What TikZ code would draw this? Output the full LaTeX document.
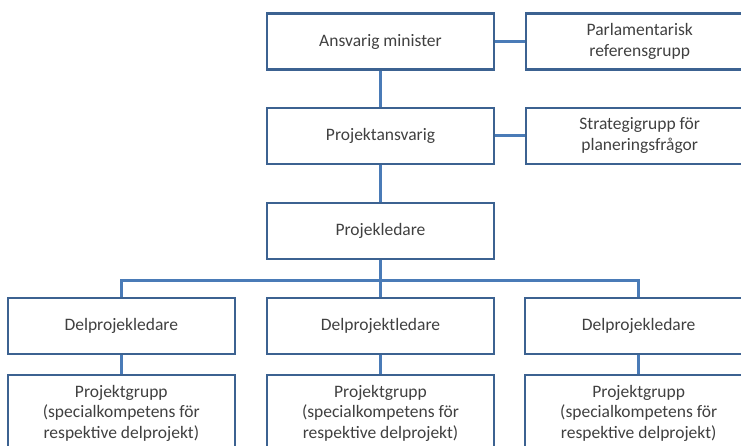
\documentclass[tikz,border=0pt]{standalone}
\usepackage{fontspec}
\setmainfont{Carlito}
\usetikzlibrary{positioning}
\definecolor{boxblue}{RGB}{60,98,145}
\definecolor{lineblue}{RGB}{74,123,183}
\definecolor{textgray}{RGB}{64,64,64}

\begin{document}
\begin{tikzpicture}[
    x=1pt, y=-1pt,
    node distance=36pt and 30pt,
    box/.style={draw=boxblue, line width=2.2pt, rectangle, minimum height=56pt, minimum width=227pt, inner sep=0pt, align=center, text=textgray, font=\fontsize{17.5}{20.5}\selectfont},
    group/.style={box, minimum height=76pt},
    link/.style={lineblue, line width=3pt}
]
    \useasboundingbox (0,0) rectangle (741,445);
    \clip (0,0) rectangle (741,445);

    \node[box] (am) at (380.5,41.5) {Ansvarig minister};
    \node[box, right=of am] (pr) {Parlamentarisk\\referensgrupp};
    \node[box, below=of am] (pa) {Projektansvarig};
    \node[box, right=of pa] (sg) {Strategigrupp för\\planeringsfrågor};
    \node[box, below=37pt of pa] (pl) {Projekledare};

    \node[box, below=37pt of pl] (dl2) {Delprojektledare};
    \node[box, left=of dl2] (dl1) {Delprojekledare};
    \node[box, right=29pt of dl2] (dl3) {Delprojekledare};

    \node[group, below=19pt of dl1] (pg1) {Projektgrupp\\(specialkompetens för\\respektive delprojekt)};
    \node[group, below=19pt of dl2] (pg2) {Projektgrupp\\(specialkompetens för\\respektive delprojekt)};
    \node[group, below=19pt of dl3] (pg3) {Projektgrupp\\(specialkompetens för\\respektive delprojekt)};

    \coordinate[below=20pt of pl.south] (bar);

    \draw[link] (am) -- (pr);
    \draw[link] (am) -- (pa);
    \draw[link] (pa) -- (sg);
    \draw[link] (pa) -- (pl);
    \draw[link] (pl) -- (dl2);
    \draw[link] (dl1) |- (bar) -| (dl3);

    \draw[link] (dl1) -- (pg1);
    \draw[link] (dl2) -- (pg2);
    \draw[link] (dl3) -- (pg3);

\end{tikzpicture}
\end{document}
